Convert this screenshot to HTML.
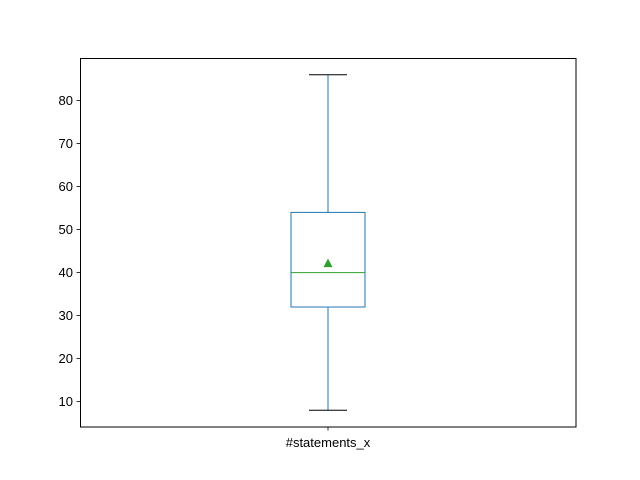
<!DOCTYPE html>
<html><head><meta charset="utf-8"><style>body{margin:0;background:#fff}svg{display:block}</style></head>
<body>
<svg id="chart" width="640" height="480" xmlns="http://www.w3.org/2000/svg" font-family="Liberation Sans, DejaVu Sans, sans-serif">
<rect x="0" y="0" width="640" height="480" fill="#fff"/>
<g id="plot"></g>
<rect x="80.5" y="58.5" width="495.5" height="368.5" fill="none" stroke="#000" stroke-width="1"/>
</svg>
<script>
const categories = ["#statements_x"];
const whiskerLow = [8];
const q1 = [32];
const median = [40];
const q3 = [54];
const whiskerHigh = [86];
const means = [42.2];
const yTicks = [10, 20, 30, 40, 50, 60, 70, 80];

const NS = "http://www.w3.org/2000/svg";
const g = document.getElementById("plot");
const pTop = 58, pBottom = 427, pLeft = 80, pRight = 576;
const yMin = 4.1, yMax = 89.9;
function y(v){ return pBottom - (v - yMin) / (yMax - yMin) * (pBottom - pTop); }
function x(i){ return pLeft + (pRight - pLeft) * (i + 0.5) / categories.length; }
function el(tag, attrs){ const e = document.createElementNS(NS, tag); for (const k in attrs) e.setAttribute(k, attrs[k]); g.appendChild(e); return e; }

yTicks.forEach(t => {
  const yy = y(t);
  const tk = el("line", {x1: pLeft - 3.5, x2: pLeft, y1: yy, y2: yy, stroke: "#000", "stroke-width": 0.8});
  
  
  const tx = el("text", {x: pLeft - 7, y: yy + 4.5, "text-anchor": "end", "font-size": 13, fill: "#000"});
  tx.textContent = t;
  
  
});

categories.forEach((c, i) => {
  const cx = x(i), hw = 37, cw = 19;
  const tk = el("line", {x1: cx, x2: cx, y1: pBottom, y2: pBottom + 3.5, stroke: "#000", "stroke-width": 0.8});
  
  
  const lab = el("text", {x: cx, y: pBottom + 20, "text-anchor": "middle", "font-size": 13, fill: "#000"});
  lab.textContent = c;
  
  
  const w1 = el("line", {x1: cx, x2: cx, y1: y(whiskerLow[i]), y2: y(q1[i]), stroke: "#1f77b4", "stroke-width": 1});
  
  
  const w2 = el("line", {x1: cx, x2: cx, y1: y(q3[i]), y2: y(whiskerHigh[i]), stroke: "#1f77b4", "stroke-width": 1});
  
  
  const c1 = el("line", {x1: cx - cw, x2: cx + cw, y1: y(whiskerLow[i]), y2: y(whiskerLow[i]), stroke: "#000", "stroke-width": 1});
  
  
  const c2 = el("line", {x1: cx - cw, x2: cx + cw, y1: y(whiskerHigh[i]), y2: y(whiskerHigh[i]), stroke: "#000", "stroke-width": 1});
  
  
  const box = el("rect", {x: cx - hw, y: y(q3[i]), width: 2 * hw, height: y(q1[i]) - y(q3[i]), fill: "none", stroke: "#1f77b4", "stroke-width": 1});
  
  
  const md = el("line", {x1: cx - hw, x2: cx + hw, y1: y(median[i]), y2: y(median[i]), stroke: "#2ca02c", "stroke-width": 1});
  
  
  const my = y(means[i]);
  const mk = el("polygon", {points: `${cx},${my-4.5} ${cx-4.5},${my+4} ${cx+4.5},${my+4}`, fill: "#2ca02c"});
  
  
});
</script>
</body></html>
